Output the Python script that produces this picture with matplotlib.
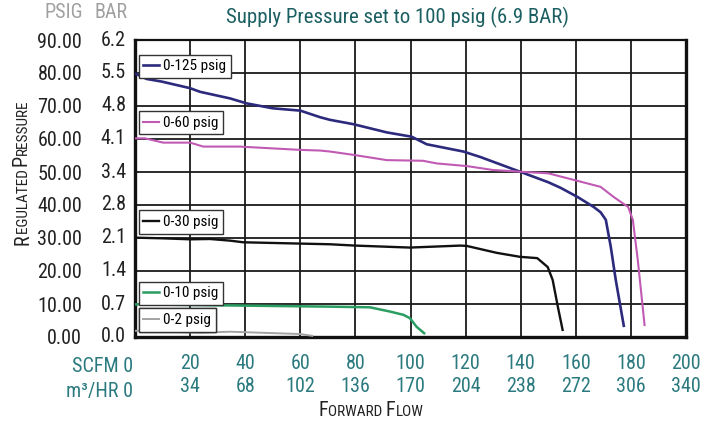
import numpy as np
import matplotlib
matplotlib.use("Agg")
import matplotlib.pyplot as plt
from matplotlib import font_manager
from matplotlib.lines import Line2D
from matplotlib.offsetbox import TextArea, HPacker, AnnotationBbox
import matplotlib.transforms as mtransforms

# pick a narrow face if there is one
names = {f.name for f in font_manager.fontManager.ttflist}
FONT = "DejaVu Sans"
for cand in ["Roboto Condensed", "PT Sans Narrow", "Archivo Narrow", "Liberation Sans Narrow"]:
    if cand in names:
        FONT = cand
        break
plt.rcParams["font.family"] = [FONT, "DejaVu Sans"]
if FONT == "DejaVu Sans":
    plt.rcParams["font.stretch"] = "condensed"

# ---- data (SCFM vs psig) ----
flow_125 = [0, 4.2, 9.7, 20, 23.6, 34.5, 40.5, 50, 60, 67.2, 70.8, 79.2, 91.4, 100.4, 105.9,
            119.2, 125.5, 139.7, 150, 154.5, 160.7, 166.5, 169, 170.9, 172.7, 174.5, 177.5]
psig_125 = [79.9, 78.2, 77.4, 75.4, 74.3, 72.3, 70.8, 69.3, 68.6, 66.6, 65.8, 64.5, 62.0, 60.7, 58.4,
            56.2, 54.5, 50.1, 46.9, 45.2, 42.4, 39.4, 37.8, 35.5, 27.3, 17.3, 3.0]

flow_60 = [0, 3.6, 10.2, 20, 24.8, 38, 60, 67.2, 70.8, 79.2, 91.4, 104.5, 109.5, 120.4, 130,
           139.7, 150, 160.7, 169, 173.8, 179, 180.7, 182.5, 185]
psig_60 = [60.2, 60.2, 58.9, 58.9, 57.7, 57.7, 56.7, 56.5, 56.2, 55.2, 53.6, 53.4, 52.6, 51.8, 50.6,
           50.1, 49.6, 47.3, 45.5, 42.4, 39.4, 35.5, 23.3, 3.3]

flow_30 = [0, 10.2, 20, 27.2, 34.5, 39.3, 70.8, 79.9, 99.8, 118, 120.4, 131.3, 139.7, 146,
           149.8, 151.6, 153.5, 155.3]
psig_30 = [30.1, 29.9, 29.6, 29.7, 29.2, 28.7, 28.1, 27.7, 27.1, 27.7, 27.6, 25.5, 24.3, 23.9,
           21.2, 17.3, 9.1, 1.8]

flow_10 = [0, 70.8, 85.3, 92.6, 97.5, 99.8, 102.2, 105.3]
psig_10 = [9.9, 9.2, 9.0, 7.7, 6.7, 5.7, 3.1, 0.9]

flow_2 = [0, 23.6, 34.5, 60, 64.7]
psig_2 = [1.9, 1.3, 1.6, 0.9, 0.3]

series = [
    ("0-125 psig", flow_125, psig_125, "#2c2a7c", 1.9),
    ("0-60 psig", flow_60, psig_60, "#c05ab4", 1.5),
    ("0-30 psig", flow_30, psig_30, "#111111", 1.7),
    ("0-10 psig", flow_10, psig_10, "#2a9d62", 1.8),
    ("0-2 psig", flow_2, psig_2, "#a3a3a3", 1.4),
]
legend_y = [0.951, 0.760, 0.426, 0.186, 0.096]

psig_ticks = [0, 10, 20, 30, 40, 50, 60, 70, 80, 90]
bar_ticks = ["0.0", "0.7", "1.4", "2.1", "2.8", "3.4", "4.1", "4.8", "5.5", "6.2"]
scfm_ticks = [20, 40, 60, 80, 100, 120, 140, 160, 180, 200]
m3hr_ticks = [34, 68, 102, 136, 170, 204, 238, 272, 306, 340]

TEAL = "#2b7a7f"
TITLE = "#1c5f62"
FS = 14.5

fig = plt.figure(figsize=(7.14, 4.24), dpi=100)
ax = fig.add_axes([135 / 714, 1 - 337 / 424, 551 / 714, 297 / 424])

lines = []
for name, xs, ys, c, lw in series:
    ln, = ax.plot(xs, ys, color=c, lw=lw, label=name, solid_capstyle="butt", zorder=3)
    lines.append(ln)

ax.set_xlim(0, 200)
ax.set_ylim(0, 90)
ax.set_xticks([0] + scfm_ticks)
ax.set_xticklabels([""] + [f"{s}\n{m}" for s, m in zip(scfm_ticks, m3hr_ticks)],
                   color=TEAL, fontsize=FS, linespacing=1.3)
ax.set_yticks(psig_ticks)
ax.set_yticklabels([f"{p:.2f}" for p in psig_ticks], fontsize=FS, color="#222222")
ax.tick_params(axis="x", length=0, pad=12)
ax.tick_params(axis="y", length=0, pad=38)
ax.grid(True, color="#1a1a1a", lw=1.3)
ax.set_axisbelow(True)
for side, sp in ax.spines.items():
    sp.set_color("#111111")
    sp.set_linewidth(1.6 if side == "top" else 2.4)

# BAR column next to the psig labels
tr = mtransforms.blended_transform_factory(fig.transFigure, ax.transData)
for p, b in zip(psig_ticks, bar_ticks):
    fig.text(126 / 714, p, b, transform=tr, ha="right", va="center", fontsize=FS, color="#222222")

fig.text(83 / 714, 1 - 13 / 424, "PSIG", ha="right", va="center", fontsize=FS, color="#a0a0a0")
fig.text(128 / 714, 1 - 13 / 424, "BAR", ha="right", va="center", fontsize=FS, color="#a0a0a0")

fig.text(133 / 714, 1 - 366 / 424, "SCFM 0", ha="right", va="center", fontsize=FS, color=TEAL)
fig.text(133 / 714, 1 - 391 / 424, "m\u00b3/HR 0", ha="right", va="center", fontsize=FS, color=TEAL)

fig.text(398 / 714, 1 - 17 / 424, "Supply Pressure set to 100 psig (6.9 BAR)",
         ha="center", va="center", fontsize=15, color=TITLE)

# one little legend box per curve
for ln, ly in zip(lines, legend_y):
    h = Line2D([], [], color=ln.get_color(), lw=ln.get_linewidth())
    leg = ax.legend(handles=[h], labels=[ln.get_label()], loc="upper left",
                    bbox_to_anchor=(0.007, ly), borderaxespad=0, fontsize=11,
                    handlelength=1.0, handletextpad=0.3, borderpad=0.3,
                    fancybox=False, framealpha=1, edgecolor="#333333")
    leg.get_frame().set_linewidth(1.0)
    leg.set_zorder(5)
    ax.add_artist(leg)

# small caps axis titles
BIG, SMALL = FS, 11
parts_x = [("F", BIG), ("ORWARD ", SMALL), ("F", BIG), ("LOW", SMALL)]
box = HPacker(children=[TextArea(t, textprops=dict(fontsize=s, color="#222222")) for t, s in parts_x],
              align="baseline", pad=0, sep=0)
ab = AnnotationBbox(box, (371 / 714, 1 - 411 / 424), xycoords="figure fraction",
                    frameon=False, box_alignment=(0.5, 0.5))
fig.add_artist(ab)

parts_y = [("R", BIG), ("EGULATED ", SMALL), ("P", BIG), ("RESSURE", SMALL)]
prev = None
for t, s in parts_y:
    if prev is None:
        prev = fig.text(32 / 714, 1 - 245 / 424, t, rotation=90, ha="right", va="bottom",
                        fontsize=s, color="#222222")
    else:
        off = (BIG - s) * 0.21 if s < BIG else 0
        prev = ax.annotate(t, xy=(1, 1), xycoords=prev, xytext=(-off, 0),
                           textcoords="offset points", rotation=90, ha="right", va="bottom",
                           fontsize=s, color="#222222", annotation_clip=False)

fig.savefig("out.png", dpi=100)
